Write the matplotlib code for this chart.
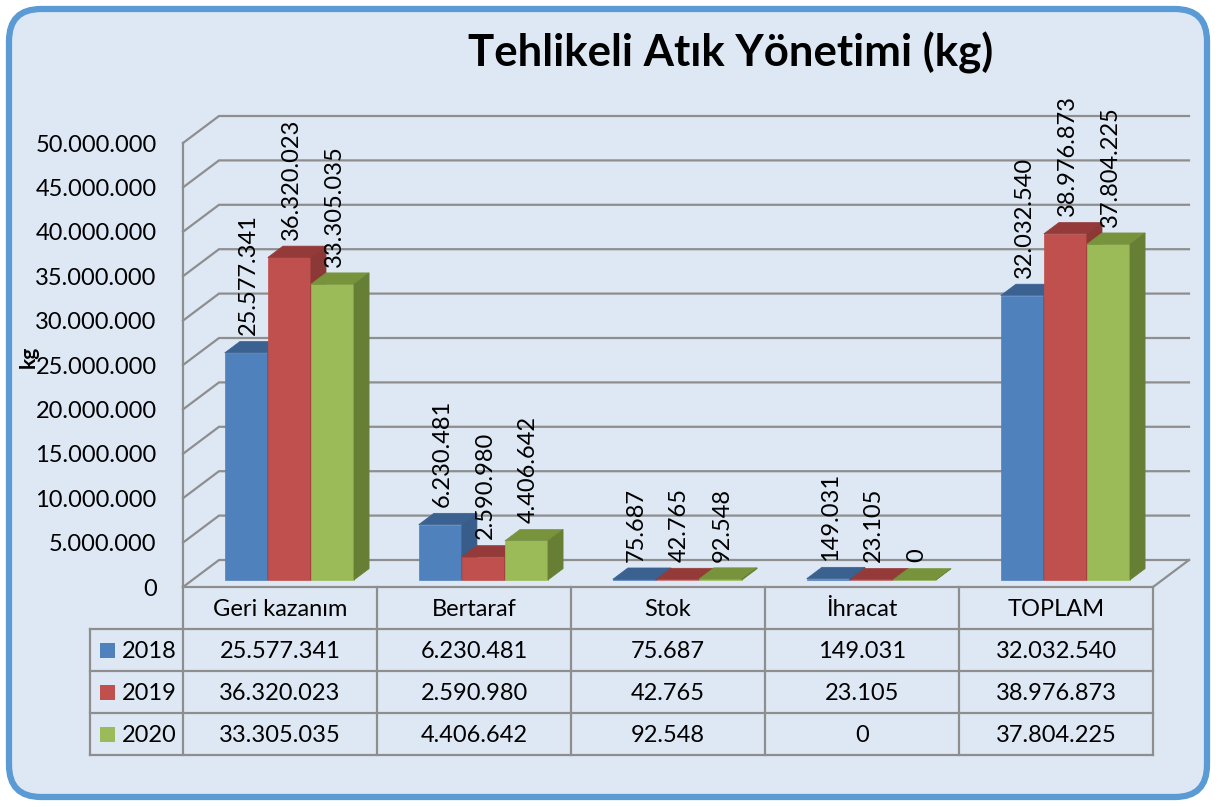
import matplotlib
matplotlib.use("Agg")

import matplotlib.pyplot as plt
from matplotlib.patches import Polygon, FancyBboxPatch, Rectangle

W, H = 1218, 807

categories = ["Geri kazanım", "Bertaraf", "Stok", "İhracat", "TOPLAM"]
years = ["2018", "2019", "2020"]
values_2018 = [25577341, 6230481, 75687, 149031, 32032540]
values_2019 = [36320023, 2590980, 42765, 23105, 38976873]
values_2020 = [33305035, 4406642, 92548, 0, 37804225]
y_ticks = [0, 5e6, 10e6, 15e6, 20e6, 25e6, 30e6, 35e6, 40e6, 45e6, 50e6]

series = [values_2018, values_2019, values_2020]
# front, top, side colours per series
colors = [
    ("#4F81BD", "#3B6191", "#385D8A"),
    ("#C0504D", "#943B39", "#8C3836"),
    ("#9BBB59", "#77933C", "#667F35"),
]

plt.rcParams["font.family"] = ["Lato", "DejaVu Sans"]


def fmt(v):
    return f"{int(v):,}".replace(",", ".")


# pixel layout of the front plane
X_LEFT, X_RIGHT = 183, 1153
Y_ZERO, Y_TOP = 587, 143
DEPTH_PX = (36, 27)  # right, up

fig = plt.figure(figsize=(W / 100, H / 100), dpi=100)
fig.patch.set_facecolor("white")

# background canvas in pixel coords
bg = fig.add_axes([0, 0, 1, 1], zorder=0)
bg.set_xlim(0, W)
bg.set_ylim(H, 0)
bg.axis("off")
bg.add_patch(FancyBboxPatch((9, 9), W - 20, H - 19, boxstyle="round,pad=0,rounding_size=32",
                            fc="#DDE8F4", ec="#5B9BD5", lw=4.5))

bg.text(731, 53, "Tehlikeli Atık Yönetimi (kg)", fontsize=31.5, fontweight="bold",
        ha="center", va="center", color="black")
bg.text(29, 357, "kg", fontsize=15, fontweight="bold", rotation=90,
        ha="center", va="center")

# main chart axes = front plane
ax = fig.add_axes([X_LEFT / W, (H - Y_ZERO) / H, (X_RIGHT - X_LEFT) / W, (Y_ZERO - Y_TOP) / H],
                  zorder=1)
ax.patch.set_visible(False)
ncat = len(categories)
ax.set_xlim(0, ncat)
ax.set_ylim(0, 50e6)
for s in ax.spines.values():
    s.set_visible(False)
ax.set_xticks([])
ax.set_yticks(y_ticks)
ax.set_yticklabels([fmt(t) for t in y_ticks])
ax.tick_params(axis="y", length=0, pad=19, labelsize=17)

DX = DEPTH_PX[0] / (X_RIGHT - X_LEFT) * ncat
DY = DEPTH_PX[1] / (Y_ZERO - Y_TOP) * 50e6

grid_c = "#8E8E8E"
for t in y_ticks:
    ax.plot([0, DX, ncat + DX], [t, t + DY, t + DY], color=grid_c, lw=1.6,
            clip_on=False, zorder=1, solid_joinstyle="miter")
ax.plot([0, 0], [0, 50e6], color=grid_c, lw=1.6, clip_on=False, zorder=1)
ax.plot([ncat, ncat + DX], [0, DY], color=grid_c, lw=1.6, clip_on=False, zorder=1)

# bars: front face at depth D0, back at D1 (fractions of floor depth)
D0, D1 = 0.26, 0.68
bw = 0.222
goff = (1 - 3 * bw) / 2
dx = (D1 - D0) * DX
dy = (D1 - D0) * DY
for i in range(ncat):
    for j, vals in enumerate(series):
        v = vals[i]
        fc, tc, sc = colors[j]
        x0 = i + goff + j * bw + D0 * DX
        x1 = x0 + bw
        y0 = D0 * DY
        y1 = y0 + v
        z = 3 + i * 3 + j
        ax.add_patch(Polygon([(x0, y0), (x1, y0), (x1, y1), (x0, y1)], closed=True,
                             fc=fc, ec=fc, lw=0.5, clip_on=False, zorder=z))
        ax.add_patch(Polygon([(x0, y1), (x1, y1), (x1 + dx, y1 + dy), (x0 + dx, y1 + dy)],
                             closed=True, fc=tc, ec=tc, lw=0.5, clip_on=False, zorder=z))
        ax.add_patch(Polygon([(x1, y0), (x1 + dx, y0 + dy), (x1 + dx, y1 + dy), (x1, y1)],
                             closed=True, fc=sc, ec=sc, lw=0.5, clip_on=False, zorder=z))
        ax.annotate(fmt(v), (x0 + bw / 2, y1 + dy), xytext=(1.5, 4.5),
                    textcoords="offset points", rotation=90, ha="center", va="bottom",
                    fontsize=17, zorder=40, annotation_clip=False)

# data table below the floor
col_w = (X_RIGHT - X_LEFT) / ncat
row_y = [587, 629, 671, 713, 755]
leg_x = 90
tab_c = "#8E8E8E"
bg.plot([X_LEFT, X_RIGHT], [row_y[0], row_y[0]], color=tab_c, lw=1.6, zorder=2)
for y in row_y[1:]:
    bg.plot([leg_x, X_RIGHT], [y, y], color=tab_c, lw=1.6, zorder=2)
for k in range(ncat + 1):
    x = X_LEFT + k * col_w
    bg.plot([x, x], [row_y[0], row_y[-1]], color=tab_c, lw=1.6, zorder=2)
bg.plot([leg_x, leg_x], [row_y[1], row_y[-1]], color=tab_c, lw=1.6, zorder=2)

for i, cat in enumerate(categories):
    cx = X_LEFT + (i + 0.5) * col_w
    bg.text(cx, (row_y[0] + row_y[1]) / 2 + 2, cat, fontsize=17, ha="center", va="center")
    for j, vals in enumerate(series):
        cy = (row_y[j + 1] + row_y[j + 2]) / 2 + 1
        bg.text(cx, cy, fmt(vals[i]), fontsize=17, ha="center", va="center")

for j, yr in enumerate(years):
    cy = (row_y[j + 1] + row_y[j + 2]) / 2
    bg.add_patch(Rectangle((100, cy - 7.5), 15, 15, fc=colors[j][0], ec="none"))
    bg.text(122, cy + 1, yr, fontsize=17, ha="left", va="center")

fig.savefig("out.png", dpi=100)
